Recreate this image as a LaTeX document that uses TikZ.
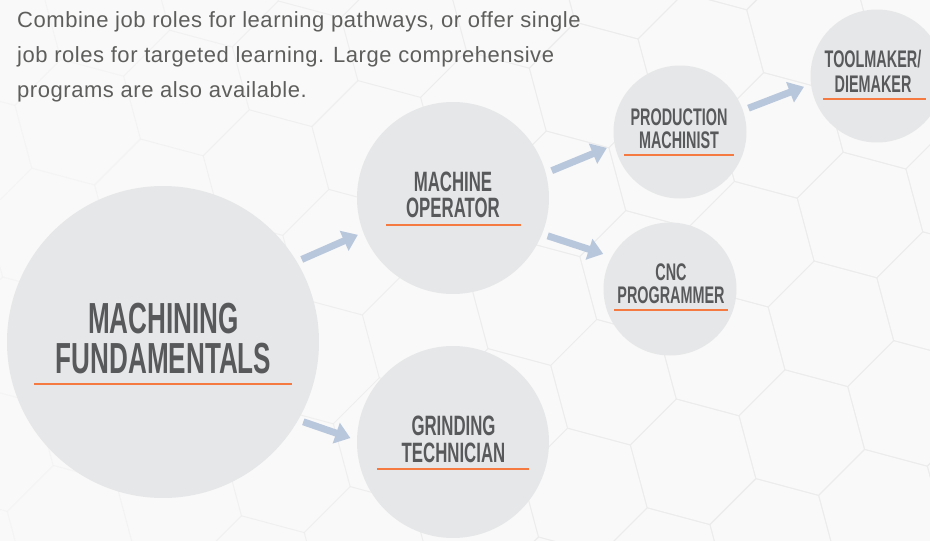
\documentclass[tikz,border=0pt]{standalone}
\usepackage{fontspec}
\usetikzlibrary{arrows.meta}
\newfontfamily\condfont[FakeStretch=0.6]{Liberation Sans}
\newfontfamily\bodyfont[LetterSpace=2.5]{Liberation Sans}
\definecolor{bgcol}{HTML}{F9F9F9}
\definecolor{hexcol}{HTML}{ECECEC}
\definecolor{circcol}{HTML}{E6E7E8}
\definecolor{titlecol}{HTML}{58595B}
\definecolor{bodycol}{HTML}{5E5E5C}
\definecolor{orangecol}{HTML}{F47A42}
\definecolor{arrowcol}{HTML}{B9C7DC}
\begin{document}
\begin{tikzpicture}[x=1pt,y=-1pt,
  hexline/.style={draw=hexcol,line width=0.8pt,line join=round},
  bubble/.style={circle,fill=circcol,inner sep=0pt,outer sep=0pt,minimum size=#1},
  bigtitle/.style={anchor=base,text=titlecol,inner sep=0pt,font=\condfont\bfseries\fontsize{43.5}{43.5}\selectfont},
  midtitle/.style={anchor=base,text=titlecol,inner sep=0pt,font=\condfont\bfseries\fontsize{28}{28}\selectfont},
  smalltitle/.style={anchor=base,text=titlecol,inner sep=0pt,font=\condfont\bfseries\fontsize{24}{24}\selectfont},
  uline/.style={draw=orangecol,line width=2.5pt},
  flow/.style={draw=arrowcol,line width=7pt,-{Triangle[width=21pt,length=15pt]}},
  bodytext/.style={anchor=base west,text=bodycol,inner sep=0pt,font=\bodyfont\fontsize{22}{22}\selectfont}]
\useasboundingbox (0,0) rectangle (930,541);
\fill[bgcol] (0,0) rectangle (930,541);
\begin{scope}
  \clip (0,0) rectangle (930,541);
  \foreach \i in {-11,...,3}{
    \foreach \j in {-4,...,10}{
      \pgfmathsetmacro\cx{860+79.6*\i-29.1*\j}
      \pgfmathsetmacro\cy{215+79.6*\i+108.8*\j}
      \pgfmathsetmacro\op{max(0.2,min(1,(\cx+50)/700))}
      \draw[hexline,draw opacity=\op,shift={(\cx,\cy)}] (15:65) -- (75:65) -- (135:65) -- (195:65) -- (255:65) -- (315:65) -- cycle;
    }}
\end{scope}

% intro text
\node[bodytext] (l1) at (17,27) {Combine job roles for learning pathways, or offer single};
\node[bodytext] (l2) at (17,62) {job roles for targeted learning. Large comprehensive};
\node[bodytext] (l3) at (17,97) {programs are also available.};

% bubbles
\node[bubble=312pt] (big) at (163,342) {};
\node[bubble=192pt] (op) at (453,198) {};
\node[bubble=192pt] (grind) at (453,442) {};
\node[bubble=133pt] (pm) at (680,132) {};
\node[bubble=133pt] (td) at (877,76) {};
\node[bubble=133pt] (cnc) at (670,289) {};

% arrows
\draw[flow,shorten <=5.5pt,shorten >=6pt] (big.31) -- (op.201);
\draw[flow,shorten <=5.5pt,shorten >=7pt] (big.-30) -- (grind.179);
\draw[flow,shorten <=6.5pt,shorten >=8.5pt] (op.15) -- (pm.191.6);
\draw[flow,shorten <=6pt,shorten >=9pt] (op.-22) -- (cnc.151.4);
\draw[flow,shorten <=6pt,shorten >=7.5pt] (pm.19.4) -- (td.187);

% titles
\node[bigtitle] (t1a) at (163.5,333.5) {MACHINING};
\node[bigtitle] (t1b) at (163.5,373) {FUNDAMENTALS};
\draw[uline] (34,384) -- (292,384);

\node[midtitle] (t2a) at (453,191) {MACHINE};
\node[midtitle] (t2b) at (453,217) {OPERATOR};
\draw[uline] (386,225) -- (521,225);

\node[midtitle] (t3a) at (453.5,435) {GRINDING};
\node[midtitle] (t3b) at (453.5,462) {TECHNICIAN};
\draw[uline] (377,469) -- (529,469);

\node[smalltitle] (t4a) at (679,125) {PRODUCTION};
\node[smalltitle] (t4b) at (679,148) {MACHINIST};
\draw[uline] (624,155) -- (734,155);

\node[smalltitle] (t5a) at (873,67) {TOOLMAKER/};
\node[smalltitle] (t5b) at (873,92) {DIEMAKER};
\draw[uline] (823,99) -- (926,99);

\node[smalltitle] (t6a) at (671,280) {CNC};
\node[smalltitle] (t6b) at (671,303) {PROGRAMMER};
\draw[uline] (614,310) -- (728,310);
\end{tikzpicture}
\end{document}
